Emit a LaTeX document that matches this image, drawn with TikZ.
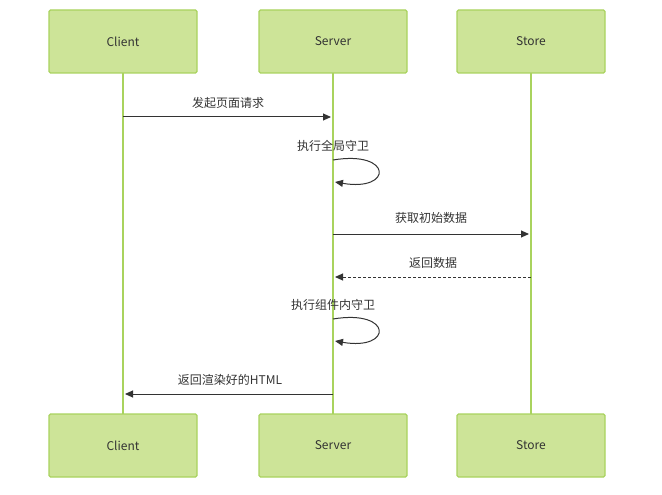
\documentclass[tikz,border=0pt]{standalone}
\usepackage{fontspec}
\setmainfont{Noto Sans CJK SC}
\usetikzlibrary{arrows.meta}
\definecolor{boxfill}{HTML}{CDE498}
\definecolor{boxline}{HTML}{A9D35E}
\definecolor{txt}{HTML}{333333}
\begin{document}
\begin{tikzpicture}[x=1pt,y=-1pt,
  actor/.style={draw=boxline,fill=boxfill,line width=1.2pt,minimum width=148pt,minimum height=63pt,inner sep=0pt,font=\fontsize{12}{14}\selectfont,text=txt,rounded corners=1.5pt},
  life/.style={draw=boxline,line width=1.5pt},
  msg/.style={draw=txt,line width=1pt,-{Triangle[length=8pt,width=7pt]}},
  lbl/.style={font=\fontsize{12}{14}\selectfont,text=txt}]
\useasboundingbox (0,0) rectangle (662,495);
\coordinate (c1) at (123,73); \coordinate (c2) at (123,414);
\coordinate (s1) at (333,73); \coordinate (s2) at (333,414);
\coordinate (t1) at (531,73); \coordinate (t2) at (531,414);
\draw[life] (c1)--(c2); \draw[life] (s1)--(s2); \draw[life] (t1)--(t2);
\node[actor] (ct) at (123,41.5) {Client};
\node[actor] (st) at (333,41.5) {Server};
\node[actor] (tt) at (531,41.5) {Store};
\node[actor] (cb) at (123,445.5) {Client};
\node[actor] (sb) at (333,445.5) {Server};
\node[actor] (tb) at (531,445.5) {Store};
\coordinate (m1a) at (123,117); \coordinate (m1b) at (331,117);
\draw[msg] (m1a)--(m1b);
\node[lbl] (l1) at (228,103) {发起页面请求};
\coordinate (sa) at (333,160); \coordinate (sb2) at (335,182);
\draw[msg] (sa) .. controls (393,150) and (393,192) .. (sb2);
\node[lbl] (l2) at (333,146) {执行全局守卫};
\coordinate (m3a) at (333,234); \coordinate (m3b) at (529,234);
\draw[msg] (m3a)--(m3b);
\node[lbl] (l3) at (431,218) {获取初始数据};
\coordinate (m4a) at (531,277); \coordinate (m4b) at (335,277);
\draw[msg,dash pattern=on 3pt off 2pt] (m4a)--(m4b);
\node[lbl] (l4) at (433,263) {返回数据};
\coordinate (sc) at (333,319); \coordinate (sd) at (335,341);
\draw[msg] (sc) .. controls (393,309) and (393,351) .. (sd);
\node[lbl] (l5) at (333,305) {执行组件内守卫};
\coordinate (m6a) at (333,394); \coordinate (m6b) at (125,394);
\draw[msg] (m6a)--(m6b);
\node[lbl] (l6) at (230,380) {返回渲染好的HTML};
\end{tikzpicture}
\end{document}
